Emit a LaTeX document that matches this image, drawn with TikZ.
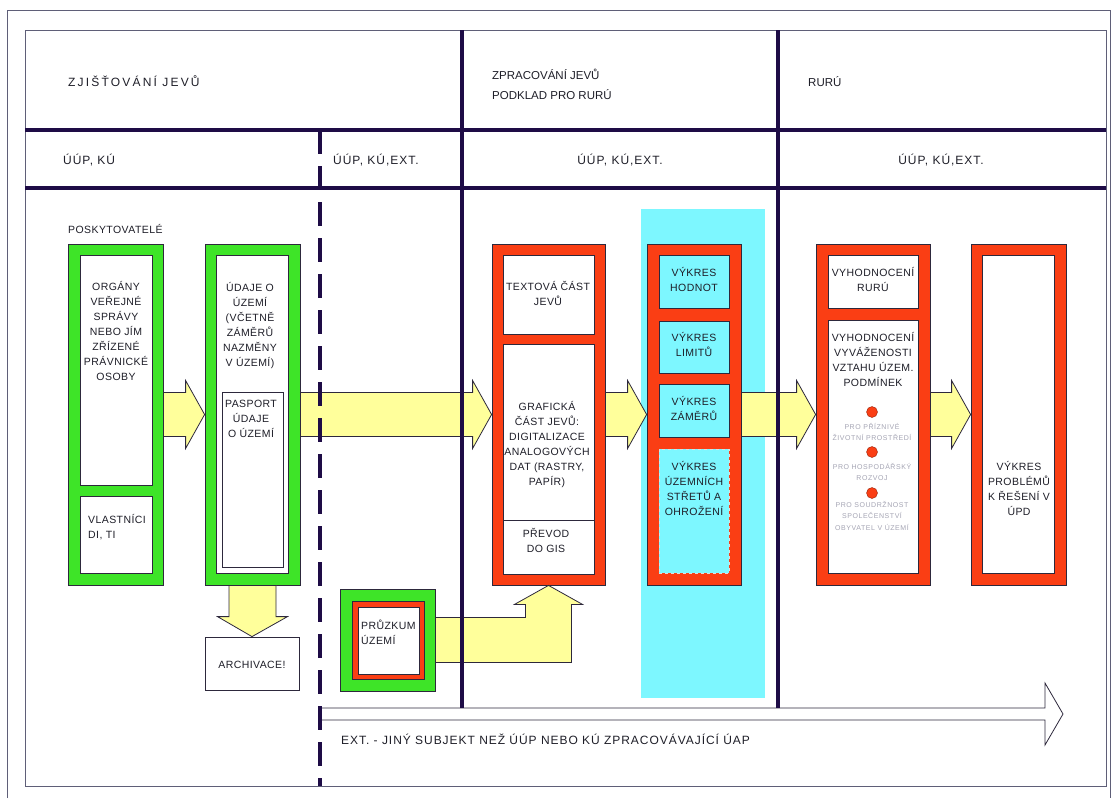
\documentclass[tikz,border=0pt]{standalone}
\usepackage{fontspec}
\setmainfont{Liberation Sans}
\newfontfamily\bodyfont[LetterSpace=4]{Liberation Sans}
\newfontfamily\headfont[LetterSpace=8]{Liberation Sans}
\newfontfamily\wideheadfont[LetterSpace=18]{Liberation Sans}
\newfontfamily\plainheadfont{Liberation Sans}
\newfontfamily\smallfont[LetterSpace=8]{Liberation Sans}
\usetikzlibrary{calc}

\definecolor{navy}{RGB}{30,12,70}
\definecolor{framegray}{RGB}{95,95,120}
\definecolor{edge}{RGB}{45,40,60}
\definecolor{ink}{RGB}{30,30,40}
\definecolor{boxgreen}{RGB}{62,228,40}
\definecolor{boxred}{RGB}{250,62,20}
\definecolor{bandcyan}{RGB}{125,247,255}
\definecolor{flowyellow}{RGB}{255,255,155}
\definecolor{softgray}{RGB}{165,165,180}

% horizontal block arrow from the east side of #1 to the west side of #2
\newcommand\flowright[2]{%
  \filldraw[flow] let \p1=(#1.east), \p2=(#2.west) in
    (\x1,\y2+22pt) -- (\x2-19pt,\y2+22pt) -- (\x2-19pt,\y2+34pt) -- (\x2,\y2)
    -- (\x2-19pt,\y2-34pt) -- (\x2-19pt,\y2-22pt) -- (\x1,\y2-22pt) -- cycle;}

\begin{document}
\begin{tikzpicture}[x=1pt,y=-1pt,
  frameline/.style={draw=framegray,line width=1pt},
  divider/.style={draw=navy,line width=4.5pt},
  greenbox/.style={draw=edge,fill=boxgreen,line width=0.8pt,inner sep=0pt},
  redbox/.style={draw=edge,fill=boxred,line width=0.8pt,inner sep=0pt},
  whitebox/.style={draw=edge,fill=white,line width=0.8pt,inner sep=0pt},
  cyanbox/.style={draw=edge,fill=bandcyan,line width=0.8pt,inner sep=0pt},
  cyandash/.style={draw=white!75!gray,dashed,fill=bandcyan,line width=0.8pt,inner sep=0pt},
  flow/.style={draw=edge,fill=flowyellow,line width=0.8pt},
  dot/.style={circle,draw=boxred!60!black,line width=0.4pt,fill=boxred,minimum size=11pt,inner sep=0pt},
  head/.style={font=\fontsize{12}{20}\selectfont\headfont,text=ink,inner sep=0pt,text height=8.6pt,text depth=0pt},
  headtwo/.style={font=\fontsize{11.5}{20}\selectfont\plainheadfont,text=ink,inner sep=0pt,align=left,
    execute at begin node=\rule{0pt}{11pt}},
  body/.style={font=\fontsize{10.5}{15}\selectfont\bodyfont,text=ink,inner sep=0pt,align=center,
    execute at begin node=\rule{0pt}{9.8pt}},
  bodyleft/.style={body,align=left},
  small/.style={font=\fontsize{7}{11.5}\selectfont\smallfont,text=softgray,inner sep=0pt,align=center,
    execute at begin node=\rule{0pt}{6.7pt}},
]
\useasboundingbox (0,0) rectangle (1115,798);

% page frames
\draw[frameline] (7,798) -- (7,10) -- (1110,10) -- (1110,798);
\draw[frameline] (25,30) rectangle (1106,786);

% header rows
\draw[divider] (25,130) -- (1106,130);
\draw[divider] (25,188) -- (1106,188);

\node[head,font=\fontsize{12}{20}\selectfont\wideheadfont,anchor=west] (h1) at (68,82) {ZJIŠŤOVÁNÍ JEVŮ};
\node[headtwo,anchor=north west] (h2) at (492,68.5) {ZPRACOVÁNÍ JEVŮ\\PODKLAD PRO RURÚ};
\node[head,font=\fontsize{11.5}{20}\selectfont\plainheadfont,anchor=west] (h3) at (808,82) {RURÚ};
\node[head,anchor=west] (s1) at (63,160) {ÚÚP, KÚ};
\node[head,anchor=west] (s2) at (333,160) {ÚÚP, KÚ,EXT.};
\node[head] (s3) at (620,160) {ÚÚP, KÚ,EXT.};
\node[head] (s4) at (941,160) {ÚÚP, KÚ,EXT.};

% cyan band behind the drawings column
\fill[bandcyan] (641,209) rectangle (765,698);

% providers
\node[bodyleft,anchor=north west] (prov) at (68,223) {POSKYTOVATELÉ};

\node[greenbox,minimum width=95pt,minimum height=341pt] (g1) at (115.5,414.5) {};
\node[whitebox,minimum width=72pt,minimum height=230pt] (org) at (116,370) {};
\node[whitebox,minimum width=72pt,minimum height=77pt] (own) at (116,534.5) {};
\node[body,anchor=north] (orgtxt) at (116,281) {ORGÁNY\\VEŘEJNÉ\\SPRÁVY\\NEBO JÍM\\ZŘÍZENÉ\\PRÁVNICKÉ\\OSOBY};
\node[bodyleft,anchor=north west] (owntxt) at (88,514) {VLASTNÍCI\\DI, TI};

\node[greenbox,minimum width=95pt,minimum height=341pt] (g2) at (252.5,414.5) {};
\node[whitebox,minimum width=72pt,minimum height=318pt] (data) at (252,414) {};
\node[whitebox,minimum width=61pt,minimum height=175pt] (pasp) at (252.5,479.5) {};
\node[body,anchor=north] (datatxt) at (250,282) {ÚDAJE O\\ÚZEMÍ\\(VČETNĚ\\ZÁMĚRŮ\\NAZMĚNY\\V ÚZEMÍ)};
\node[body,anchor=north] (pasptxt) at (251,400) {PASPORT\\ÚDAJE\\O ÚZEMÍ};

\node[whitebox,minimum width=94pt,minimum height=53pt] (arch) at (252,663.5) {};
\node[body,anchor=north] (archtxt) at (252,658) {ARCHIVACE!};

% field survey
\node[greenbox,minimum width=95pt,minimum height=102pt] (pzg) at (387.5,640) {};
\node[redbox,minimum width=72pt,minimum height=78pt] (pzr) at (388,640) {};
\node[whitebox,minimum width=61pt,minimum height=67pt] (pz) at (388.5,640.5) {};
\node[bodyleft,anchor=north west] (pztxt) at (361,620) {PRŮZKUM\\ÚZEMÍ};

% processing
\node[redbox,minimum width=113pt,minimum height=341pt] (r1) at (548.5,414.5) {};
\node[whitebox,minimum width=91pt,minimum height=79pt] (txtpart) at (548.5,294.5) {};
\node[whitebox,minimum width=91pt,minimum height=176pt] (graf) at (548.5,432) {};
\node[whitebox,minimum width=91pt,minimum height=54pt] (gis) at (548.5,547) {};
\node[body,anchor=north] (txtparttxt) at (548,281) {TEXTOVÁ ČÁST\\JEVŮ};
\node[body,anchor=north] (graftxt) at (547,401) {GRAFICKÁ\\ČÁST JEVŮ:\\DIGITALIZACE\\ANALOGOVÝCH\\DAT (RASTRY,\\PAPÍR)};
\node[body,anchor=north] (gistxt) at (546,528) {PŘEVOD\\DO GIS};

% drawings
\node[redbox,minimum width=94pt,minimum height=341pt] (r2) at (694,414.5) {};
\node[cyanbox,minimum width=70pt,minimum height=53pt] (val) at (694,281.5) {};
\node[cyanbox,minimum width=70pt,minimum height=52pt] (lim) at (694,347) {};
\node[cyanbox,minimum width=70pt,minimum height=53pt] (int) at (694,410.5) {};
\node[cyandash,minimum width=70pt,minimum height=124pt] (haz) at (694,511) {};
\node[body,anchor=north] (valtxt) at (694,267) {VÝKRES\\HODNOT};
\node[body,anchor=north] (limtxt) at (694,332) {VÝKRES\\LIMITŮ};
\node[body,anchor=north] (inttxt) at (694,396) {VÝKRES\\ZÁMĚRŮ};
\node[body,anchor=north] (haztxt) at (694,461) {VÝKRES\\ÚZEMNÍCH\\STŘETŮ A\\OHROŽENÍ};

% evaluation
\node[redbox,minimum width=114pt,minimum height=341pt] (r3) at (873,414.5) {};
\node[whitebox,minimum width=90pt,minimum height=53pt] (evr) at (873,281.5) {};
\node[whitebox,minimum width=90pt,minimum height=253pt] (evb) at (873,446.5) {};
\node[body,anchor=north] (evrtxt) at (873,267) {VYHODNOCENÍ\\RURÚ};
\node[body,anchor=north] (evbtxt) at (873,332) {VYHODNOCENÍ\\VYVÁŽENOSTI\\VZTAHU ÚZEM.\\PODMÍNEK};
\node[dot] (p1) at (872,412) {};
\node[dot] (p2) at (872,452) {};
\node[dot] (p3) at (872,493) {};
\node[small,anchor=north] (p1txt) at (872,423) {PRO PŘÍZNIVÉ\\ŽIVOTNÍ PROSTŘEDÍ};
\node[small,anchor=north] (p2txt) at (872,463) {PRO HOSPODÁŘSKÝ\\ROZVOJ};
\node[small,anchor=north] (p3txt) at (872,501) {PRO SOUDRŽNOST\\SPOLEČENSTVÍ\\OBYVATEL V ÚZEMÍ};

% problems
\node[redbox,minimum width=95pt,minimum height=341pt] (r4) at (1018.5,414.5) {};
\node[whitebox,minimum width=72pt,minimum height=318pt] (prob) at (1018,414) {};
\node[body,anchor=north] (probtxt) at (1019,461) {VÝKRES\\PROBLÉMŮ\\K ŘEŠENÍ V\\ÚPD};

% flow arrows
\flowright{g1}{g2}
\flowright{g2}{r1}
\flowright{r1}{r2}
\flowright{r2}{r3}
\flowright{r3}{r4}

\filldraw[flow] let \p1=(g2.south), \p2=(arch.north) in
  (\x1-23.5pt,\y1) -- (\x1-23.5pt,\y2+20pt) -- (\x1-35pt,\y2+20pt) -- (\x2,\y2)
  -- (\x1+35pt,\y2+20pt) -- (\x1+23.5pt,\y2+20pt) -- (\x1+23.5pt,\y1) -- cycle;

\filldraw[flow] let \p1=(pzg.east), \p2=(r1.south) in
  (\x1,\y1+22.5pt) -- (\x2-23pt,\y1+22.5pt) -- (\x2-23pt,\y2-19pt) -- (\x2-34pt,\y2-19pt)
  -- (\x2,\y2) -- (\x2+34pt,\y2-19pt) -- (\x2+23pt,\y2-19pt) -- (\x2+23pt,\y1-22.5pt)
  -- (\x1,\y1-22.5pt) -- cycle;

% external processors arrow
\coordinate (extA) at (320,714);
\coordinate (extB) at (1063,714);
\filldraw[draw=edge,fill=white,line width=0.8pt] let \p1=(extA), \p2=(extB) in
  (\x1,\y1+6pt) -- (\x2-18pt,\y1+6pt) -- (\x2-18pt,\y1+31pt) -- (\x2,\y2)
  -- (\x2-18pt,\y1-31pt) -- (\x2-18pt,\y1-6pt) -- (\x1,\y1-6pt) -- cycle;
\node[head,anchor=west] (ext) at (341,740) {EXT. - JINÝ SUBJEKT NEŽ ÚÚP NEBO KÚ ZPRACOVÁVAJÍCÍ ÚAP};

% column dividers
\draw[divider] (462,30) -- (462,708);
\draw[divider] (778,30) -- (778,708);
\draw[divider,dash pattern=on 24pt off 12pt] (320,130) -- (320,786);
\end{tikzpicture}
\end{document}
